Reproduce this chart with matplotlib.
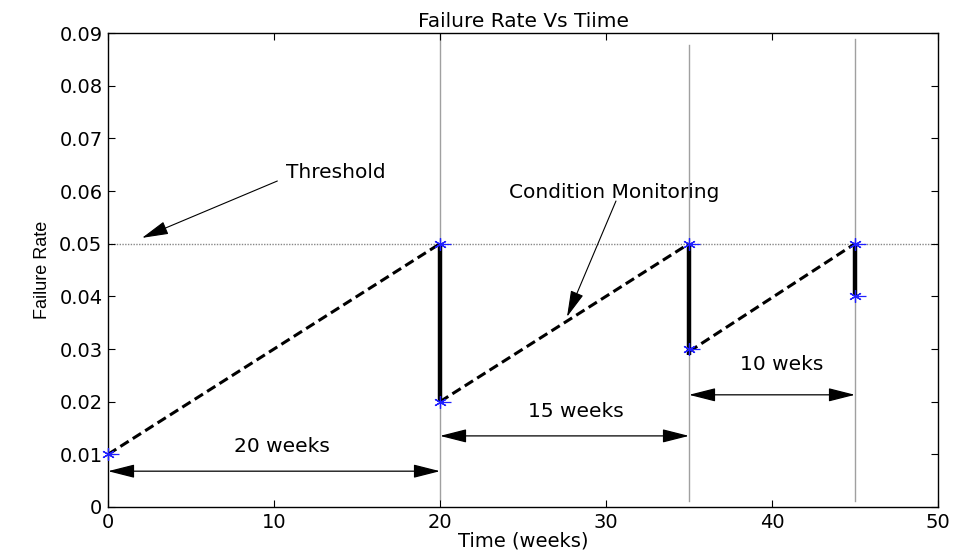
import numpy as np
import matplotlib
matplotlib.use("Agg")
from matplotlib import pyplot as plt

# failure rate rises linearly between maintenance actions, then drops
ramp_t0 = [0, 20, 35]
ramp_t1 = [20, 35, 45]
ramp_r0 = [0.01, 0.02, 0.0295]
ramp_r1 = [0.05, 0.05, 0.05]

# drops after each condition monitoring action
drop_t = [20, 35, 45]
drop_top = [0.05, 0.05, 0.05]
drop_bottom = [0.02, 0.0288, 0.04]

# sampled points (blue asterisks)
pts_t = [0, 20, 20, 35, 35, 45, 45]
pts_r = [0.01, 0.05, 0.02, 0.05, 0.03, 0.05, 0.04]

# guide lines at maintenance times
guide_t = [20, 35, 45]
guide_top = [0.09, 0.0877, 0.0889]
guide_bottom = [0.0013, 0.0012, 0.0012]

threshold = 0.05

# interval arrows
span_start = [0, 20, 35]
span_end = [20, 35, 45]
span_y = [0.0068, 0.0135, 0.0213]
span_text = ["20 weeks", "15 weeks", "10 weks"]
span_text_x = [10.5, 28.2, 40.6]
span_text_y = [0.0114, 0.0182, 0.0271]

xticks = [0, 10, 20, 30, 40, 50]
yticks = [0, 0.01, 0.02, 0.03, 0.04, 0.05, 0.06, 0.07, 0.08, 0.09]
ytick_labels = ["0", "0.01", "0.02", "0.03", "0.04", "0.05", "0.06", "0.07", "0.08", "0.09"]

fig = plt.figure(figsize=(9.55, 5.55), dpi=100)
ax = fig.add_axes([0.1131, 0.0865, 0.8691, 0.854])

for t, lo, hi in zip(guide_t, guide_bottom, guide_top):
    ax.plot([t, t], [lo, hi], color="#a0a0a0", lw=1.0, zorder=1)

ax.plot([0, 50], [threshold, threshold], color="#888888", lw=1.0, ls=(0, (1, 1)), zorder=1)

for t0, t1, r0, r1 in zip(ramp_t0, ramp_t1, ramp_r0, ramp_r1):
    ax.plot([t0, t1], [r0, r1], color="k", lw=2.2, ls=(0, (3.2, 1.6)), zorder=3)

for t, lo, hi in zip(drop_t, drop_bottom, drop_top):
    ax.plot([t, t], [lo, hi], color="k", lw=3.2, solid_capstyle="butt", zorder=3)

ax.plot(pts_t, pts_r, ls="none", marker=(6, 2, 0), ms=9, mew=0.9, color="#2020ff",
        zorder=4, clip_on=False)
ax.plot(np.array(pts_t) + 0.3, pts_r, ls="none", marker="_", ms=9, mew=0.9, color="#2020ff",
        zorder=4, clip_on=False)

head = "head_length=0.75,head_width=0.19"
for a, b, y in zip(span_start, span_end, span_y):
    ax.annotate("", xy=(b, y), xytext=(a, y),
                arrowprops=dict(arrowstyle="<|-|>," + head, color="k", lw=0.9,
                                mutation_scale=22, shrinkA=0, shrinkB=0))
for x, y, s in zip(span_text_x, span_text_y, span_text):
    ax.text(x, y, s, ha="center", va="center", fontsize=14.5)

ax.annotate("", xy=(2.05, 0.0511), xytext=(10.2, 0.0619),
            arrowprops=dict(arrowstyle="-|>," + head, color="k", lw=0.8,
                            mutation_scale=22, shrinkA=0, shrinkB=0))
ax.text(13.7, 0.0636, "Threshold", ha="center", va="center", fontsize=14.5)

ax.annotate("", xy=(27.65, 0.0361), xytext=(30.6, 0.0581),
            arrowprops=dict(arrowstyle="-|>," + head, color="k", lw=0.8,
                            mutation_scale=22, shrinkA=0, shrinkB=0))
ax.text(30.5, 0.0598, "Condition Monitoring", ha="center", va="center", fontsize=14.5)

ax.set_xlim(0, 50)
ax.set_ylim(0, 0.09)
ax.set_xticks(xticks)
ax.set_xticklabels([str(v) for v in xticks])
ax.set_yticks(yticks)
ax.set_yticklabels(ytick_labels)
ax.tick_params(direction="in", top=True, right=True, length=5, width=0.8,
               labelsize=14, pad=4)
for sp in ax.spines.values():
    sp.set_linewidth(1.0)

ax.set_title("Failure Rate Vs Tiime", fontsize=14.5, pad=4)
ax.set_xlabel("Time (weeks)", fontsize=14, labelpad=0)
ax.set_ylabel("Failure Rate", fontsize=13, family=["Liberation Sans Narrow", "Liberation Sans"], labelpad=6)

fig.savefig("out.png", dpi=100)
